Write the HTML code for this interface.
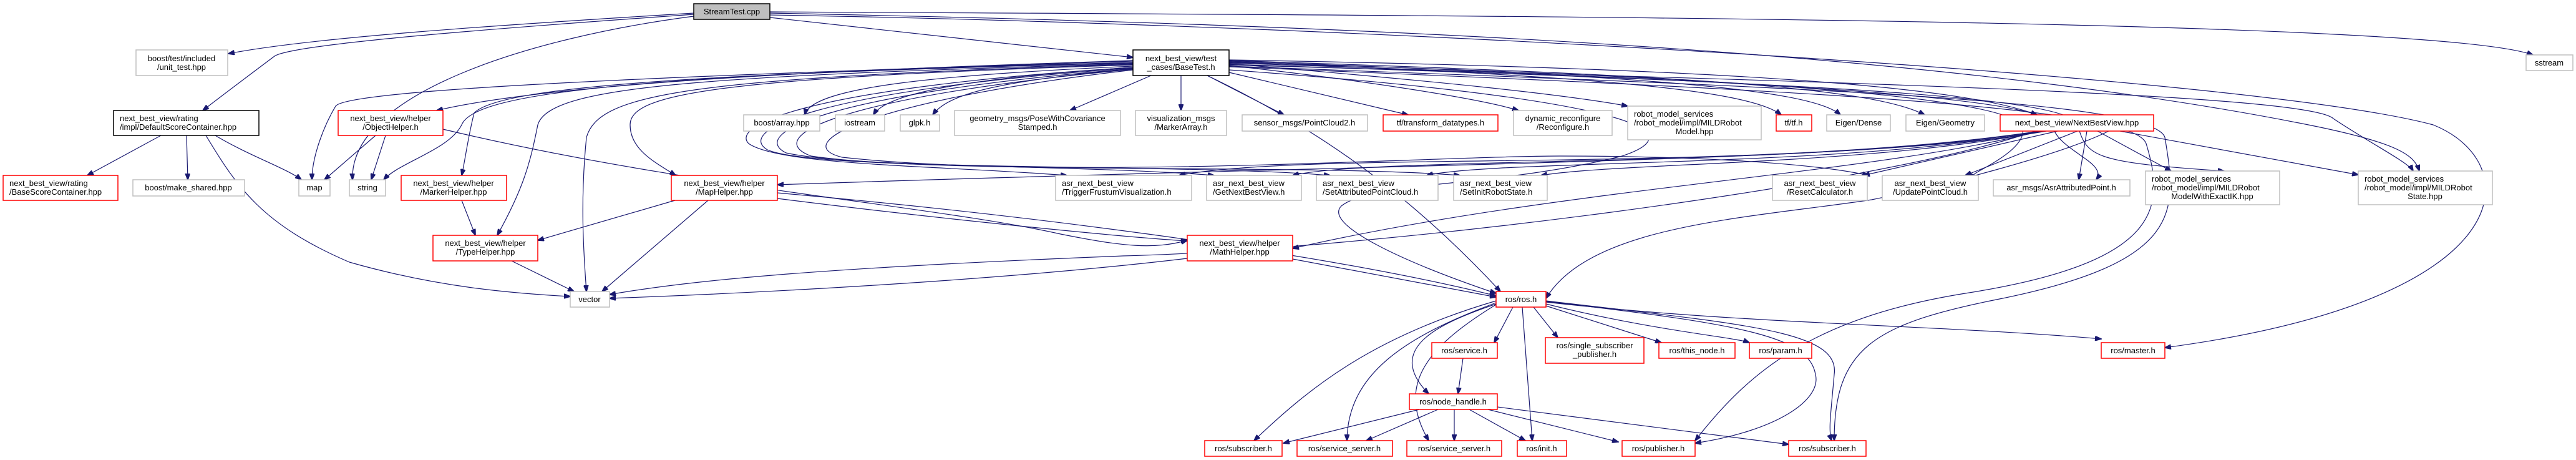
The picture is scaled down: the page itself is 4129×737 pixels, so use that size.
<!DOCTYPE html>
<html><head><meta charset="utf-8"><style>
html,body{margin:0;padding:0;background:#fff;}
svg{display:block;}
text{font-family:"Liberation Sans",sans-serif;font-size:13px;fill:#000;}
.e{fill:none;stroke:#191970;stroke-width:1.2;marker-end:url(#a);}
.g{fill:#fff;stroke:#bfbfbf;stroke-width:1.5;}
.r{fill:#fff;stroke:#ff0000;stroke-width:1.5;}
.k{fill:#fff;stroke:#000;stroke-width:1.5;}
.s{fill:#bfbfbf;stroke:#000;stroke-width:1.5;}
</style></head><body>
<svg width="4129" height="737" viewBox="0 0 4129 737" xmlns="http://www.w3.org/2000/svg">
<defs><marker id="a" markerWidth="11" markerHeight="8" refX="10" refY="4" orient="auto" markerUnits="userSpaceOnUse"><path d="M0,0 L11,4 L0,8 z" fill="#191970" stroke="#191970"/></marker></defs>

<!-- StreamTest edges -->
<path class="e" d="M1112,21 C800,40 500,60 366,86"/>
<path class="e" d="M1112,23 C800,45 470,70 440,90 C400,120 360,150 325,177"/>
<path class="e" d="M1112,26 C850,60 560,150 565,288"/>
<path class="e" d="M1234,28 L1816,92"/>
<path class="e" d="M1234,19 C2400,25 3900,30 4060,88"/>
<path class="e" d="M1234,21 C2200,40 3100,80 3700,200 C3850,230 3870,250 3878,274"/>
<path class="e" d="M1234,24 C2200,40 3600,120 3900,200 C4050,260 4050,480 3470,557"/>

<!-- DefaultScoreContainer -->
<path class="e" d="M258,217 L140,281"/>
<path class="e" d="M299,217 L301,288"/>
<path class="e" d="M345,217 C400,250 460,270 483,288"/>
<path class="e" d="M330,217 C380,300 420,360 560,420 C700,460 820,470 914,475"/>

<!-- ObjectHelper -->
<path class="e" d="M602,217 L520,288"/>
<path class="e" d="M618,217 L595,288"/>
<path class="e" d="M710,207 C1100,300 1500,330 1700,375 C1800,395 1850,400 1903,385"/>

<!-- BaseTest edges to left -->
<path class="e" d="M1816,97 C1400,110 900,130 700,177"/>
<path class="e" d="M1816,98 C1200,118 560,140 538,170 C520,200 500,250 500,288"/>
<path class="e" d="M1816,100 C1000,120 760,150 740,200 C720,240 640,260 615,288"/>
<path class="e" d="M1816,101 C1100,118 800,140 760,181 C750,220 745,260 740,281"/>
<path class="e" d="M1816,102 C1100,122 880,140 862,200 C850,260 840,300 797,377"/>
<path class="e" d="M1816,103 C1100,125 960,150 940,220 C930,320 935,400 940,467"/>
<path class="e" d="M1816,104 C1150,125 1010,150 1010,200 C1010,240 1050,260 1083,281"/>
<path class="e" d="M1816,106 C1500,120 1300,140 1290,184"/>
<path class="e" d="M1816,108 C1550,125 1420,150 1400,184"/>
<path class="e" d="M1816,110 C1600,130 1520,150 1495,184"/>
<path class="e" d="M1845,121 L1715,177"/>
<path class="e" d="M1893,121 L1893,177"/>
<path class="e" d="M1935,121 L2058,184"/>
<path class="e" d="M1970,116 L2257,184"/>
<path class="e" d="M1970,105 C2200,130 2380,160 2434,177"/>
<path class="e" d="M1970,102 C2300,130 2500,150 2609,170"/>
<path class="e" d="M1970,99 C2500,120 2800,140 2855,184"/>
<path class="e" d="M1970,98 C2600,120 2900,140 2950,184"/>
<path class="e" d="M1970,97 C2700,120 3000,140 3085,184"/>
<path class="e" d="M1970,96 C2800,110 3150,140 3265,184"/>
<!-- BaseTest to asr row (curving around from left) -->
<path class="e" d="M1816,108 C1300,140 1170,200 1200,230 C1250,265 1500,265 1710,281"/>
<path class="e" d="M1816,109 C1300,145 1180,210 1230,240 C1300,270 1700,262 1946,281"/>
<path class="e" d="M1816,110 C1320,150 1200,215 1260,245 C1400,275 1900,262 2132,281"/>
<path class="e" d="M1816,111 C1340,155 1220,220 1300,250 C1500,280 2100,262 2340,281"/>
<path class="e" d="M1816,112 C1400,160 1260,230 1350,252 C1700,290 2300,250 2500,250 C2700,250 2900,260 2995,281"/>
<path class="e" d="M1970,100 C2700,120 3200,150 3240,200 C3260,240 3150,280 3165,281"/>
<path class="e" d="M1970,101 C2700,125 3280,150 3290,200 C3295,240 3380,260 3360,288"/>
<path class="e" d="M1970,103 C2800,130 3320,150 3330,200 C3345,250 3350,260 3565,274"/>
<path class="e" d="M1970,104 C2900,130 3700,150 3740,190 C3800,230 3860,260 3868,274"/>
<path class="e" d="M1970,106 C2900,140 3450,160 3470,220 C3490,340 3500,420 3200,480 C3000,520 2940,560 2940,706"/>
<path class="e" d="M1970,107 C2900,145 3420,170 3440,230 C3470,330 3470,420 3150,470 C2900,510 2800,600 2717,706"/>
<path class="e" d="M1970,112 C2500,150 2750,200 2600,250 C2400,300 2200,290 2150,330 C2120,360 2250,420 2398,470"/>
<path class="e" d="M1935,121 C2100,200 2250,300 2405,467"/>

<!-- MarkerHelper, MapHelper, TypeHelper -->
<path class="e" d="M740,321 L762,377"/>
<path class="e" d="M1082,321 L862,385"/>
<path class="e" d="M1135,321 L965,467"/>
<path class="e" d="M1246,318 C1500,350 1800,380 1903,386"/>
<path class="e" d="M1246,309 C1600,340 2100,400 2398,474"/>
<path class="e" d="M820,418 L920,467"/>

<!-- MathHelper -->
<path class="e" d="M1903,414 C1600,450 1200,470 977,478"/>
<path class="e" d="M2072,415 L2398,476"/>

<!-- NextBestView -->
<path class="e" d="M3280,210 C3000,260 2300,260 1246,296"/>
<path class="e" d="M3270,210 C3000,280 2500,300 2072,398"/>
<path class="e" d="M3262,210 C3000,300 2200,400 1800,410 C1300,430 1100,450 977,472"/>
<path class="e" d="M3380,210 C3300,250 3100,300 3000,320 C2800,350 2550,360 2478,478"/>
<path class="e" d="M3270,210 C2800,280 2100,240 1890,281"/>
<path class="e" d="M3272,210 C2900,270 2200,250 2072,281"/>
<path class="e" d="M3274,210 C2950,270 2400,255 2287,281"/>
<path class="e" d="M3276,210 C3000,265 2600,260 2470,281"/>
<path class="e" d="M3298,210 L2987,281"/>
<path class="e" d="M3330,210 L3150,281"/>
<path class="e" d="M3345,210 L3332,288"/>
<path class="e" d="M3362,210 L3480,274"/>
<path class="e" d="M3398,210 L3780,280"/>

<!-- ros.h -->
<path class="e" d="M2425,492 L2395,549"/>
<path class="e" d="M2458,492 L2497,541"/>
<path class="e" d="M2478,490 L2663,549"/>
<path class="e" d="M2478,487 C2650,530 2780,540 2804,549"/>
<path class="e" d="M2478,484 C2800,520 3100,520 3368,543"/>
<path class="e" d="M2440,492 L2456,706"/>
<path class="e" d="M2398,487 C2300,520 2220,560 2290,631"/>
<path class="e" d="M2398,482 C2200,540 2100,620 2010,706"/>
<path class="e" d="M2398,485 C2250,540 2160,600 2159,706"/>
<path class="e" d="M2398,488 C2280,560 2240,620 2290,706"/>
<path class="e" d="M2478,483 C2800,520 2900,540 2910,600 C2920,640 2850,690 2717,710"/>
<path class="e" d="M2478,482 C2800,520 2950,530 2940,600 C2935,660 2930,690 2936,706"/>
<!-- service.h / node_handle -->
<path class="e" d="M2345,574 L2337,631"/>
<path class="e" d="M2275,656 L2057,710"/>
<path class="e" d="M2305,656 L2190,706"/>
<path class="e" d="M2331,656 L2331,706"/>
<path class="e" d="M2355,656 L2445,706"/>
<path class="e" d="M2385,656 L2594,708"/>
<path class="e" d="M2400,652 L2867,712"/>

<!-- Nodes -->
<rect class="s" x="1112" y="6" width="122" height="25"/><text x="1173" y="23" text-anchor="middle">StreamTest.cpp</text>
<rect class="g" x="218" y="80" width="147" height="41"/><text x="291" y="98" text-anchor="middle">boost/test/included</text><text x="291" y="112" text-anchor="middle">/unit_test.hpp</text>
<rect class="k" x="182" y="177" width="233" height="40"/><text x="192" y="194">next_best_view/rating</text><text x="192" y="208">/impl/DefaultScoreContainer.hpp</text>
<rect class="r" x="5" y="281" width="184" height="40"/><text x="15" y="298">next_best_view/rating</text><text x="15" y="312">/BaseScoreContainer.hpp</text>
<rect class="g" x="213" y="288" width="179" height="26"/><text x="302" y="305" text-anchor="middle">boost/make_shared.hpp</text>
<rect class="g" x="479" y="288" width="50" height="26"/><text x="504" y="305" text-anchor="middle">map</text>
<rect class="g" x="560" y="288" width="58" height="26"/><text x="589" y="305" text-anchor="middle">string</text>
<rect class="r" x="542" y="177" width="168" height="40"/><text x="626" y="194" text-anchor="middle">next_best_view/helper</text><text x="626" y="208" text-anchor="middle">/ObjectHelper.h</text>
<rect class="r" x="643" y="281" width="169" height="40"/><text x="727" y="298" text-anchor="middle">next_best_view/helper</text><text x="727" y="312" text-anchor="middle">/MarkerHelper.hpp</text>
<rect class="r" x="1076" y="281" width="170" height="40"/><text x="1161" y="298" text-anchor="middle">next_best_view/helper</text><text x="1161" y="312" text-anchor="middle">/MapHelper.hpp</text>
<rect class="r" x="694" y="377" width="168" height="41"/><text x="778" y="394" text-anchor="middle">next_best_view/helper</text><text x="778" y="408" text-anchor="middle">/TypeHelper.hpp</text>
<rect class="g" x="914" y="467" width="63" height="25"/><text x="945" y="484" text-anchor="middle">vector</text>
<rect class="g" x="1192" y="184" width="122" height="26"/><text x="1253" y="201" text-anchor="middle">boost/array.hpp</text>
<rect class="g" x="1339" y="184" width="79" height="26"/><text x="1378" y="201" text-anchor="middle">iostream</text>
<rect class="g" x="1443" y="184" width="63" height="26"/><text x="1474" y="201" text-anchor="middle">glpk.h</text>
<rect class="g" x="1530" y="177" width="266" height="40"/><text x="1663" y="194" text-anchor="middle">geometry_msgs/PoseWithCovariance</text><text x="1663" y="208" text-anchor="middle">Stamped.h</text>
<rect class="g" x="1820" y="177" width="146" height="40"/><text x="1893" y="194" text-anchor="middle">visualization_msgs</text><text x="1893" y="208" text-anchor="middle">/MarkerArray.h</text>
<rect class="g" x="1991" y="184" width="201" height="26"/><text x="2091" y="201" text-anchor="middle">sensor_msgs/PointCloud2.h</text>
<rect class="r" x="2217" y="184" width="184" height="26"/><text x="2309" y="201" text-anchor="middle">tf/transform_datatypes.h</text>
<rect class="g" x="2426" y="177" width="158" height="40"/><text x="2505" y="194" text-anchor="middle">dynamic_reconfigure</text><text x="2505" y="208" text-anchor="middle">/Reconfigure.h</text>
<rect class="g" x="2609" y="170" width="214" height="54"/><text x="2619" y="187">robot_model_services</text><text x="2619" y="201">/robot_model/impl/MILDRobot</text><text x="2716" y="215" text-anchor="middle">Model.hpp</text>
<rect class="k" x="1816" y="80" width="154" height="41"/><text x="1893" y="98" text-anchor="middle">next_best_view/test</text><text x="1893" y="112" text-anchor="middle">_cases/BaseTest.h</text>
<rect class="r" x="2847" y="184" width="57" height="26"/><text x="2875" y="201" text-anchor="middle">tf/tf.h</text>
<rect class="g" x="2928" y="184" width="102" height="26"/><text x="2979" y="201" text-anchor="middle">Eigen/Dense</text>
<rect class="g" x="3055" y="184" width="126" height="26"/><text x="3118" y="201" text-anchor="middle">Eigen/Geometry</text>
<rect class="r" x="3206" y="184" width="246" height="26"/><text x="3329" y="201" text-anchor="middle">next_best_view/NextBestView.hpp</text>
<rect class="g" x="1692" y="281" width="218" height="40"/><text x="1702" y="298">asr_next_best_view</text><text x="1702" y="312">/TriggerFrustumVisualization.h</text>
<rect class="g" x="1934" y="281" width="152" height="40"/><text x="1944" y="298">asr_next_best_view</text><text x="1944" y="312">/GetNextBestView.h</text>
<rect class="g" x="2110" y="281" width="195" height="40"/><text x="2120" y="298">asr_next_best_view</text><text x="2120" y="312">/SetAttributedPointCloud.h</text>
<rect class="g" x="2330" y="281" width="150" height="40"/><text x="2340" y="298">asr_next_best_view</text><text x="2340" y="312">/SetInitRobotState.h</text>
<rect class="g" x="2841" y="281" width="152" height="40"/><text x="2917" y="298" text-anchor="middle">asr_next_best_view</text><text x="2917" y="312" text-anchor="middle">/ResetCalculator.h</text>
<rect class="g" x="3017" y="281" width="154" height="40"/><text x="3094" y="298" text-anchor="middle">asr_next_best_view</text><text x="3094" y="312" text-anchor="middle">/UpdatePointCloud.h</text>
<rect class="g" x="3195" y="288" width="219" height="26"/><text x="3304" y="305" text-anchor="middle">asr_msgs/AsrAttributedPoint.h</text>
<rect class="g" x="3439" y="274" width="215" height="54"/><text x="3449" y="291">robot_model_services</text><text x="3449" y="305">/robot_model/impl/MILDRobot</text><text x="3546" y="319" text-anchor="middle">ModelWithExactIK.hpp</text>
<rect class="g" x="3780" y="274" width="215" height="54"/><text x="3790" y="291">robot_model_services</text><text x="3790" y="305">/robot_model/impl/MILDRobot</text><text x="3887" y="319" text-anchor="middle">State.hpp</text>
<rect class="g" x="4049" y="88" width="75" height="25"/><text x="4086" y="105" text-anchor="middle">sstream</text>
<rect class="r" x="1903" y="377" width="169" height="41"/><text x="1987" y="394" text-anchor="middle">next_best_view/helper</text><text x="1987" y="408" text-anchor="middle">/MathHelper.hpp</text>
<rect class="r" x="2398" y="467" width="80" height="25"/><text x="2438" y="484" text-anchor="middle">ros/ros.h</text>
<rect class="r" x="2295" y="549" width="105" height="25"/><text x="2347" y="566" text-anchor="middle">ros/service.h</text>
<rect class="r" x="2477" y="541" width="158" height="41"/><text x="2556" y="558" text-anchor="middle">ros/single_subscriber</text><text x="2556" y="572" text-anchor="middle">_publisher.h</text>
<rect class="r" x="2659" y="549" width="122" height="25"/><text x="2720" y="566" text-anchor="middle">ros/this_node.h</text>
<rect class="r" x="2804" y="549" width="100" height="25"/><text x="2854" y="566" text-anchor="middle">ros/param.h</text>
<rect class="r" x="3368" y="549" width="102" height="25"/><text x="3419" y="566" text-anchor="middle">ros/master.h</text>
<rect class="r" x="2259" y="631" width="141" height="25"/><text x="2329" y="648" text-anchor="middle">ros/node_handle.h</text>
<rect class="r" x="1931" y="706" width="124" height="25"/><text x="1993" y="723" text-anchor="middle">ros/subscriber.h</text>
<rect class="r" x="2079" y="706" width="153" height="25"/><text x="2155" y="723" text-anchor="middle">ros/service_server.h</text>
<rect class="r" x="2255" y="706" width="152" height="25"/><text x="2331" y="723" text-anchor="middle">ros/service_server.h</text>
<rect class="r" x="2432" y="706" width="79" height="25"/><text x="2471" y="723" text-anchor="middle">ros/init.h</text>
<rect class="r" x="2600" y="706" width="117" height="25"/><text x="2658" y="723" text-anchor="middle">ros/publisher.h</text>
<rect class="r" x="2867" y="706" width="124" height="25"/><text x="2929" y="723" text-anchor="middle">ros/subscriber.h</text>
</svg>
</body></html>
